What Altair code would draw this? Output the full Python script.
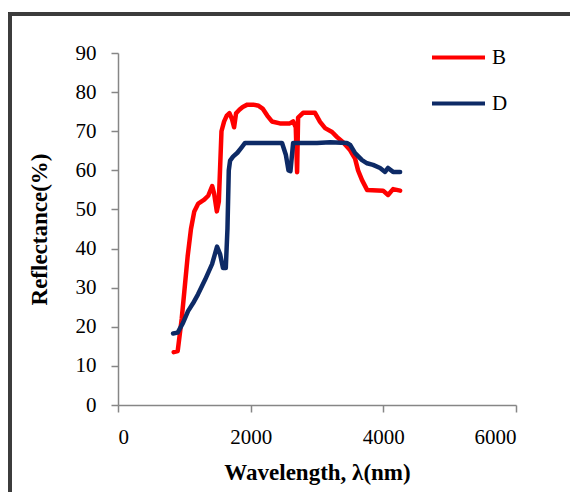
import altair as alt
import pandas as pd

# Series B (red)
b_wl = [840, 900, 960, 1000, 1050, 1100, 1150, 1210, 1300, 1360, 1420, 1450, 1490, 1520,
        1560, 1600, 1640, 1680, 1720, 1750, 1780, 1830, 1880, 1950, 2040, 2120, 2180,
        2250, 2320, 2440, 2590, 2640, 2680, 2700, 2715, 2790, 2970, 3046, 3122, 3227,
        3303, 3393, 3498, 3574, 3619, 3679, 3755, 3996, 4071, 4147, 4253]
b_refl = [13.5, 13.8, 22, 29, 38, 45, 49.5, 51.5, 52.5, 53.5, 56, 54, 49.5, 52,
          70, 72.5, 74, 74.6, 73, 71, 74.6, 75.5, 76.2, 76.8, 76.8, 76.5, 75.8,
          74, 72.5, 72, 72, 72.5, 71, 59.5, 73.5, 74.7, 74.7, 72.4, 70.8, 69.8,
          68.5, 67.2, 65.2, 63, 60, 57.5, 55, 54.8, 53.7, 55.2, 54.8]

# Series D (navy)
d_wl = [830, 900, 980, 1056, 1131, 1206, 1312, 1418, 1493, 1540, 1583, 1625, 1650,
        1670, 1690, 1734, 1800, 1870, 1915, 2473, 2530, 2570, 2600, 2640, 2700, 3000,
        3200, 3450, 3500, 3574, 3679, 3755, 3845, 3951, 4026, 4071, 4147, 4253]
d_refl = [18.3, 18.5, 21, 24, 26, 28.3, 32, 36, 40.5, 38.5, 35, 35, 45,
          60, 62.5, 63.5, 64.5, 66, 67, 67, 64, 60, 59.8, 67, 67, 67,
          67.2, 67, 66.5, 64.4, 62.6, 61.8, 61.4, 60.6, 59.6, 60.6, 59.6, 59.6]

x_ticks = [0, 2000, 4000, 6000]
y_ticks = [0, 10, 20, 30, 40, 50, 60, 70, 80, 90]
series_names = ["B", "D"]
series_colors = ["#ff0000", "#0d2a66"]

rows = []
for i, (w, r) in enumerate(zip(b_wl, b_refl)):
    rows.append({"series": "B", "wl": w, "refl": r, "order": i})
for i, (w, r) in enumerate(zip(d_wl, d_refl)):
    rows.append({"series": "D", "wl": w, "refl": r, "order": i})
df = pd.DataFrame(rows)

FONT = "Liberation Serif"

lines = alt.Chart(df).mark_line(strokeWidth=4.5, strokeJoin="round", strokeCap="round").encode(
    x=alt.X("wl:Q", scale=alt.Scale(domain=[0, 6000], nice=False),
            axis=alt.Axis(values=x_ticks, format="d", title="Wavelength, λ(nm)",
                          titleFontSize=23, titleFont=FONT, titleFontWeight="bold",
                          titleColor="#000000", titlePadding=14,
                          labelFont=FONT, labelFontSize=21, labelColor="#000000",
                          labelPadding=14, tickSize=7, grid=False,
                          domainColor="#868686", tickColor="#868686",
                          domainWidth=1.5, tickWidth=1.5)),
    y=alt.Y("refl:Q", scale=alt.Scale(domain=[0, 90], nice=False),
            axis=alt.Axis(values=y_ticks, title="Reflectance(%)",
                          titleFontSize=23, titleFont=FONT, titleFontWeight="bold",
                          titleColor="#000000", titlePadding=24,
                          labelFont=FONT, labelFontSize=21, labelColor="#000000",
                          labelPadding=15, tickSize=7, grid=False,
                          domainColor="#868686", tickColor="#868686",
                          domainWidth=1.5, tickWidth=1.5)),
    color=alt.Color("series:N", scale=alt.Scale(domain=series_names, range=series_colors),
                    legend=alt.Legend(title=None, orient="none", legendX=312, legendY=-24,
                                      symbolType="stroke", symbolSize=2809,
                                      symbolStrokeWidth=4, labelFont=FONT,
                                      labelFontSize=21, labelColor="#000000",
                                      labelOffset=5, rowPadding=7)),
    order="order:Q",
)

frame = alt.Chart(df).mark_rect(fill=None, stroke="#3c3c3c", strokeWidth=2.5).encode(
    x=alt.value(-108), x2=alt.value(480), y=alt.value(-39), y2=alt.value(500)
)

chart = alt.layer(frame, lines).properties(
    width=398, height=352,
    autosize=alt.AutoSizeParams(type="none"),
    padding={"left": 118, "top": 53, "right": 54, "bottom": 87},
    background="#ffffff",
).configure_view(strokeWidth=0)

chart.save("out.html", embed_options={"renderer": "svg", "actions": False})
